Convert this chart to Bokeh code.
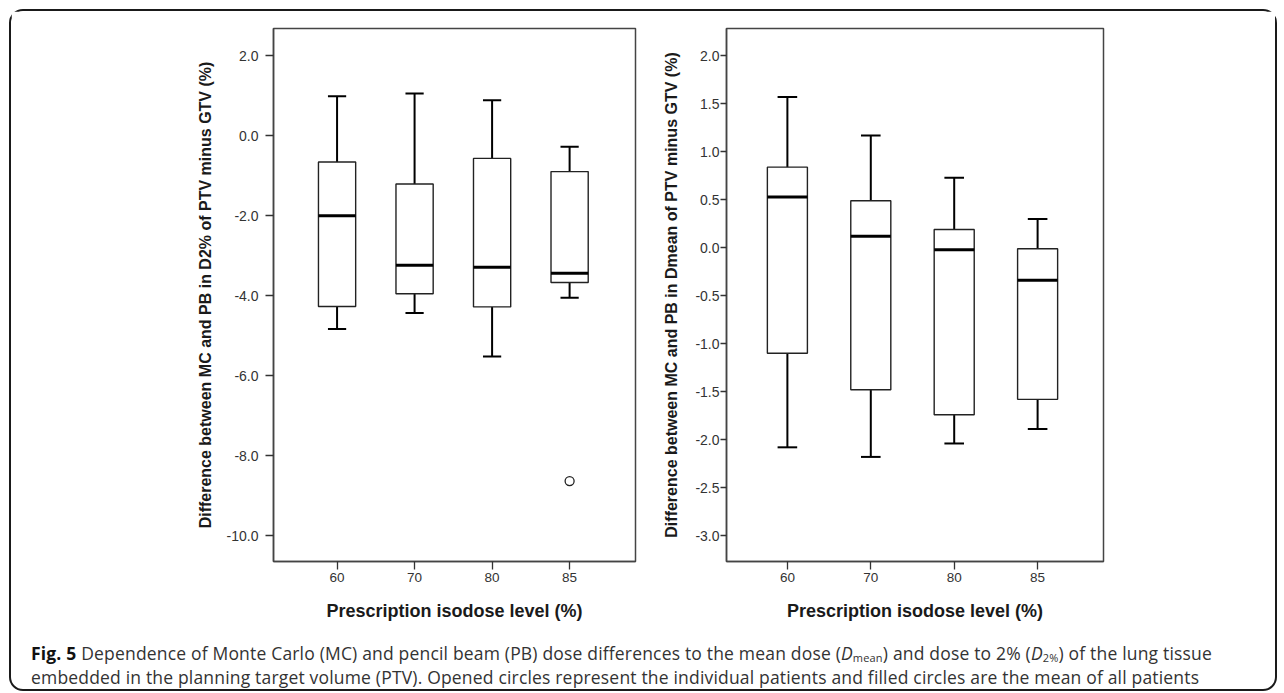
from bokeh.plotting import figure
from bokeh.layouts import row, column
from bokeh.models import FixedTicker, NumeralTickFormatter, Div, Range1d
from bokeh.embed import file_html
from bokeh.resources import INLINE

# ---------------- data ----------------
categories = ["60", "70", "80", "85"]

# Left panel: D2% difference (PTV minus GTV), %
d2_whisker_low = [-4.83, -4.43, -5.52, -4.05]
d2_q1 = [-4.27, -3.95, -4.28, -3.67]
d2_median = [-2.00, -3.24, -3.29, -3.44]
d2_q3 = [-0.66, -1.21, -0.57, -0.90]
d2_whisker_high = [0.98, 1.05, 0.88, -0.28]
d2_outlier_cat = ["85"]
d2_outlier_val = [-8.63]

# Right panel: Dmean difference (PTV minus GTV), %
dm_whisker_low = [-2.08, -2.18, -2.04, -1.89]
dm_q1 = [-1.10, -1.48, -1.74, -1.58]
dm_median = [0.53, 0.12, -0.02, -0.34]
dm_q3 = [0.84, 0.49, 0.19, -0.01]
dm_whisker_high = [1.57, 1.17, 0.73, 0.30]

left_yticks = [2.0, 0.0, -2.0, -4.0, -6.0, -8.0, -10.0]
right_yticks = [2.0, 1.5, 1.0, 0.5, 0.0, -0.5, -1.0, -1.5, -2.0, -2.5, -3.0]

x_title = "Prescription isodose level (%)"
left_y_title = "Difference between MC and PB in D2% of PTV minus GTV (%)"
right_y_title = "Difference between MC and PB in Dmean of PTV minus GTV (%)"

# ---------------- helpers ----------------
AX_COL = "#333333"
FONT = "Liberation Sans"
BOX_W = 0.48
CAP_W = 0.235


def make_panel(title, low, q1, med, q3, high, yticks, yrange, xrange,
               frame_w, mb_left, mb_right, tick_len, label_standoff, title_standoff):
    p = figure(frame_width=frame_w, frame_height=533, output_backend="svg",
               toolbar_location=None, x_range=Range1d(*xrange),
               y_range=Range1d(*yrange),
               min_border_left=mb_left, min_border_right=mb_right,
               min_border_top=17, min_border_bottom=69)
    p.background_fill_color = "white"
    p.border_fill_color = "white"
    p.outline_line_color = "#444444"
    p.outline_line_width = 1.5
    p.xgrid.visible = False
    p.ygrid.visible = False

    xs = list(range(len(categories)))
    # whiskers
    p.segment(x0=xs, y0=q3, x1=xs, y1=high, line_color="black", line_width=2)
    p.segment(x0=xs, y0=low, x1=xs, y1=q1, line_color="black", line_width=2)
    p.segment(x0=[x - CAP_W / 2 for x in xs], y0=high,
              x1=[x + CAP_W / 2 for x in xs], y1=high,
              line_color="black", line_width=2)
    p.segment(x0=[x - CAP_W / 2 for x in xs], y0=low,
              x1=[x + CAP_W / 2 for x in xs], y1=low,
              line_color="black", line_width=2)
    # boxes
    p.vbar(x=xs, width=BOX_W, bottom=q1, top=q3, fill_color="white",
           line_color="#222222", line_width=1.4)
    # medians
    p.segment(x0=[x - BOX_W / 2 for x in xs], y0=med,
              x1=[x + BOX_W / 2 for x in xs], y1=med,
              line_color="black", line_width=3)

    # axes
    p.xaxis.ticker = FixedTicker(ticks=xs)
    p.xaxis.major_label_overrides = {i: c for i, c in enumerate(categories)}
    p.yaxis.ticker = FixedTicker(ticks=yticks)
    p.yaxis.formatter = NumeralTickFormatter(format="0.0")
    for ax in (p.xaxis[0], p.yaxis[0]):
        ax.axis_line_color = "#444444"
        ax.axis_line_width = 1.5
        ax.major_tick_line_color = "#333333"
        ax.major_tick_line_width = 1.3
        ax.major_tick_in = 0
        ax.minor_tick_line_color = None
        ax.major_label_text_font = FONT
        ax.major_label_text_color = AX_COL
        ax.axis_label_text_font = FONT
        ax.axis_label_text_font_style = "bold"
        ax.axis_label_text_color = "#1a1a1a"
    p.yaxis.major_label_text_font_size = "14px"
    p.xaxis.major_label_text_font_size = "13.5px"
    p.yaxis.major_tick_out = tick_len
    p.yaxis.major_label_standoff = label_standoff
    p.yaxis.axis_label = title
    p.yaxis.axis_label_text_font_size = "16px"
    p.yaxis.axis_label_standoff = title_standoff
    p.xaxis.major_tick_out = 8
    p.xaxis.major_label_standoff = 3
    p.xaxis.axis_label = x_title
    p.xaxis.axis_label_text_font_size = "18px"
    p.xaxis.axis_label_standoff = 16
    return p


p1 = make_panel(left_y_title, d2_whisker_low, d2_q1, d2_median, d2_q3,
                d2_whisker_high, left_yticks, (-10.64, 2.675), (-0.82, 3.85),
                362, 262, 15, 8, 7, 10)
p1.scatter(x=[categories.index(c) for c in d2_outlier_cat], y=d2_outlier_val,
           marker="circle", size=9, fill_color="white", line_color="#222222",
           line_width=1.3)

p2 = make_panel(right_y_title, dm_whisker_low, dm_q1, dm_median, dm_q3,
                dm_whisker_high, right_yticks, (-3.27, 2.285), (-0.73, 3.79),
                377, 76, 172, 6, 1, 12)

SUB = 'style="font-size:11px;line-height:0;vertical-align:-2px"'
caption = Div(
    text=('<b style="color:#111">Fig. 5</b> Dependence of Monte Carlo (MC) and pencil beam (PB) '
          f'dose differences to the mean dose (<i>D</i><span {SUB}>mean</span>) '
          f'and dose to 2% (<i>D</i><span {SUB}>2%</span>) of the lung tissue<br>'
          'embedded in the planning target volume (PTV). Opened circles represent the '
          'individual patients and filled circles are the mean of all patients'),
    width=1249, height=49,
    styles={"font-family": "Open Sans", "font-size": "17.5px",
            "line-height": "24px", "letter-spacing": "0.18px",
            "color": "#333333",
            "padding-left": "15px", "padding-top": "6px",
            "white-space": "nowrap"})

layout = column(row(p1, p2), caption,
                styles={"border": "2px solid #1a1a1a", "border-radius": "14px",
                        "margin-left": "9px", "margin-top": "9px",
                        "background": "white"})

open("out.html", "w").write(file_html(layout, INLINE))
